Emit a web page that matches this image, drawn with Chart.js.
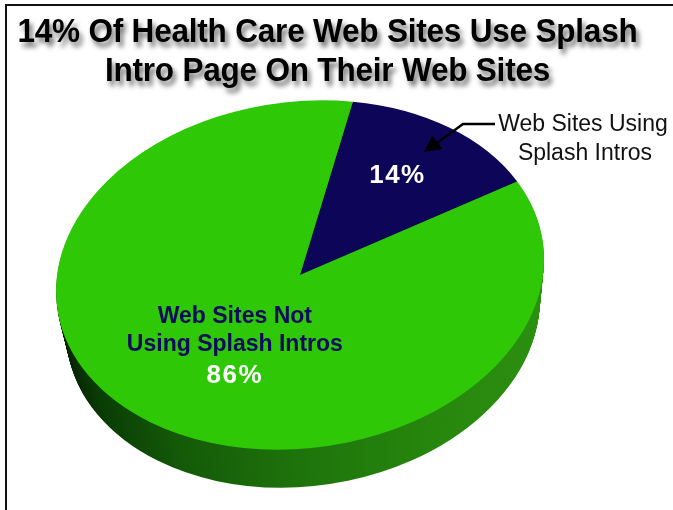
<!DOCTYPE html>
<html>
<head>
<meta charset="utf-8">
<script src="https://cdn.jsdelivr.net/npm/chart.js@4/dist/chart.umd.min.js"></script>
<style>
  html, body { margin: 0; padding: 0; background: #fff; }
  #wrap { position: relative; width: 673px; height: 510px; overflow: hidden; background: #fff; }
  #frame { position: absolute; left: 5px; top: 4px; right: -10px; bottom: -10px;
           border-left: 2px solid #111; border-top: 2px solid #111; }
  #title { position: absolute; left: 0; top: 11px; width: 655px; text-align: center;
           font-family: "Liberation Sans", Arial, sans-serif; font-weight: bold;
           font-size: 31.5px; line-height: 36px; color: #000; letter-spacing: -0.2px;
           transform: scaleY(1.08); transform-origin: 50% 0;
           text-shadow: 3px 4px 5px rgba(0,0,0,0.55); }
  canvas { position: absolute; left: 0; top: 0; }
</style>
</head>
<body>
<div id="wrap">
  <canvas id="c" width="673" height="510"></canvas>
  <div id="frame"></div>
  <div id="title">14% Of Health Care Web Sites Use Splash<br>Intro Page On Their Web Sites</div>
</div>
<script>
// Share of health care web sites with / without a splash intro page
const categories = ["Web Sites Using Splash Intros", "Web Sites Not Using Splash Intros"];
const shares = [14, 86];
const sliceColors = ["#0c0558", "#2ec807"];
const insideLines = [[], ["Web Sites Not", "Using Splash Intros"]];
const calloutLines = ["Web Sites Using", "Splash Intros"];

// Tilted-disc look: the flat pie is mapped onto an ellipse and extruded downward;
// the lower rim is a little narrower to suggest perspective
const disc = { cx: 300, cy: 275, rx: 244, ry: 174, shear: -16, depth: 40,
               rimShiftX: 3, rimShrinkX: 7, rimShrinkY: 2 };

function discAt(d) {
  const t = d / disc.depth;
  return {
    cx: disc.cx + disc.rimShiftX * t,
    cy: disc.cy + d,
    rx: disc.rx - disc.rimShrinkX * t,
    ry: disc.ry - disc.rimShrinkY * t
  };
}

function applyDisc(ctx, el, d) {
  const R = el.outerRadius;
  const e = discAt(d);
  ctx.translate(e.cx, e.cy);
  ctx.transform(e.rx / R, disc.shear / R, 0, e.ry / R, 0, 0);
  ctx.translate(-el.x, -el.y);
}

function toScreen(el, px, py) {
  const R = el.outerRadius;
  const u = (px - el.x) / R, v = (py - el.y) / R;
  return { x: disc.cx + disc.rx * u, y: disc.cy + disc.ry * v + disc.shear * u };
}

const tiltedPie = {
  id: 'tiltedPie',
  beforeDatasetsDraw(chart) {
    const ctx = chart.ctx;
    const arcs = chart.getDatasetMeta(0).data;
    const el0 = arcs[0];
    const R = el0.outerRadius;
    // side wall, shaded from dark on the left to lighter on the right
    const g = ctx.createLinearGradient(el0.x - R, 0, el0.x + R, 0);
    g.addColorStop(0.00, '#041f02');
    g.addColorStop(0.08, '#0a3c04');
    g.addColorStop(0.25, '#145a08');
    g.addColorStop(0.50, '#1e740b');
    g.addColorStop(0.78, '#27870d');
    g.addColorStop(1.00, '#2b8f10');
    for (let d = disc.depth; d >= 1; d--) {
      ctx.save();
      applyDisc(ctx, el0, d);
      arcs.forEach(el => {
        const bg = el.options.backgroundColor;
        el.options.backgroundColor = g;
        el.draw(ctx);
        el.options.backgroundColor = bg;
      });
      ctx.restore();
    }
    // top face drawn by the controller under the same mapping
    ctx.save();
    applyDisc(ctx, el0, 0);
  },
  afterDatasetsDraw(chart) {
    const ctx = chart.ctx;
    ctx.restore();
    const arcs = chart.getDatasetMeta(0).data;
    const fracs = [0.68, 0.45];
    ctx.save();
    ctx.textAlign = 'center';
    ctx.textBaseline = 'alphabetic';
    arcs.forEach((el, i) => {
      const mid = (el.startAngle + el.endAngle) / 2;
      const r = el.outerRadius * fracs[i];
      const p = toScreen(el, el.x + Math.cos(mid) * r, el.y + Math.sin(mid) * r);
      const lines = insideLines[i];
      const pct = shares[i] + '%';
      if (lines.length) {
        ctx.font = 'bold 23px "Liberation Sans", Arial, sans-serif';
        ctx.fillStyle = '#0c0a5e';
        ctx.fillText(lines[0], p.x + 2, p.y - 18);
        ctx.fillText(lines[1], p.x + 2, p.y + 10);
        ctx.font = 'bold 26px "Liberation Sans", Arial, sans-serif';
        ctx.fillStyle = '#ffffff';
        ctx.letterSpacing = '1.5px';
        ctx.fillText(pct, p.x + 2, p.y + 42);
        ctx.letterSpacing = '0px';
      } else {
        ctx.font = 'bold 26px "Liberation Sans", Arial, sans-serif';
        ctx.fillStyle = '#ffffff';
        ctx.letterSpacing = '1.5px';
        ctx.fillText(pct, p.x - 4, p.y + 8);
        ctx.letterSpacing = '0px';
      }
    });

    // callout for the small slice
    ctx.font = '23px "Liberation Sans", Arial, sans-serif';
    ctx.fillStyle = '#111';
    ctx.fillText(calloutLines[0], 583, 131);
    ctx.fillText(calloutLines[1], 585, 160);
    ctx.strokeStyle = '#000';
    ctx.lineWidth = 2.5;
    ctx.beginPath();
    ctx.moveTo(495, 124);
    ctx.lineTo(463, 124);
    ctx.lineTo(437, 143);
    ctx.stroke();
    ctx.fillStyle = '#000';
    ctx.beginPath();
    ctx.moveTo(424, 152);
    ctx.lineTo(432, 136);
    ctx.lineTo(443, 149);
    ctx.closePath();
    ctx.fill();
    ctx.restore();
  }
};

new Chart(document.getElementById('c'), {
  type: 'pie',
  data: {
    labels: categories,
    datasets: [{
      data: shares,
      backgroundColor: sliceColors,
      borderWidth: 0,
      clip: false
    }]
  },
  options: {
    responsive: false,
    animation: false,
    events: [],
    rotation: 12.5,
    layout: { padding: 20 },
    plugins: { legend: { display: false }, tooltip: { enabled: false }, title: { display: false } }
  },
  plugins: [tiltedPie]
});
</script>
</body>
</html>
